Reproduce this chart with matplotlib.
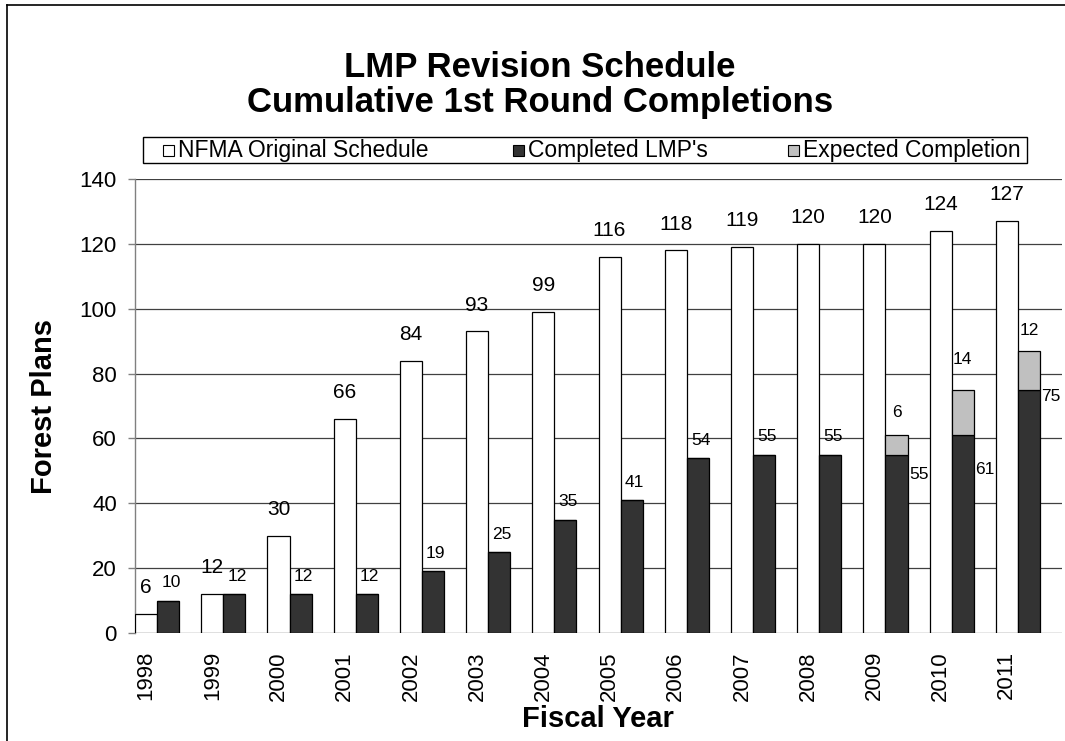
import numpy as np
import matplotlib
matplotlib.use("Agg")
import matplotlib.pyplot as plt
from matplotlib.lines import Line2D
from matplotlib.patches import Rectangle

plt.rcParams["font.family"] = ["Liberation Sans", "DejaVu Sans"]

years = [str(y) for y in range(1998, 2012)]
schedule = [6, 12, 30, 66, 84, 93, 99, 116, 118, 119, 120, 120, 124, 127]
completed = [10, 12, 12, 12, 19, 25, 35, 41, 54, 55, 55, 55, 61, 75]
expected = [0, 0, 0, 0, 0, 0, 0, 0, 0, 0, 0, 6, 14, 12]
series_names = ["NFMA Original Schedule", "Completed LMP's", "Expected Completion"]

WHITE = "#ffffff"
DARK = "#333333"
GRAY = "#c0c0c0"
GRID = "#404040"
AXIS = "#808080"

W, H = 1065, 741
fig = plt.figure(figsize=(W / 100, H / 100), dpi=100)
ax = fig.add_axes([135 / W, 1 - 633 / H, (1062 - 135) / W, (633 - 179) / H])

x = np.arange(len(years))
bw = 1 / 3
left = x - 0.5

ax.bar(left, schedule, bw, align="edge", color=WHITE, edgecolor="black", linewidth=0.9, zorder=3)
ax.bar(left + bw, completed, bw, align="edge", color=DARK, edgecolor="black", linewidth=0.9, zorder=3)
ax.bar(left + bw, expected, bw, bottom=completed, align="edge", color=GRAY, edgecolor="black",
       linewidth=0.9, zorder=3)

ax.set_xlim(-0.5, len(years) - 0.5)
ax.set_ylim(0, 140)
ax.set_yticks(range(0, 141, 20))
ax.yaxis.grid(True, color=GRID, linewidth=0.9)
ax.set_axisbelow(True)
for side in ["top", "right", "bottom"]:
    ax.spines[side].set_visible(False)
ax.spines["left"].set_color(AXIS)
ax.spines["left"].set_linewidth(1.0)
ax.tick_params(axis="y", length=5, width=1.0, color=AXIS, pad=8, labelsize=16)
ax.set_xticks(left + bw / 2)
ax.set_xticklabels(years, rotation=90, fontsize=16)
ax.tick_params(axis="x", length=0, pad=13)

# value labels
for i, v in enumerate(schedule):
    ax.annotate(str(v), (left[i] + bw / 2, v), xytext=(0, 15), textcoords="offset points",
                ha="center", va="baseline", fontsize=15)

for i, v in enumerate(completed):
    if expected[i] == 0:
        ax.annotate(str(v), (left[i] + 1.5 * bw, v), xytext=(2, 9.5), textcoords="offset points",
                    ha="center", va="baseline", fontsize=12.5)

# last three years: completed label beside the bar, expected label above the stack
side_drop = {11: -14, 12: -25, 13: -5}
top_rise = {11: 16, 12: 22, 13: 15}
for i in side_drop:
    ax.annotate(str(completed[i]), (left[i] + 2 * bw, completed[i]), xytext=(1, side_drop[i]),
                textcoords="offset points", ha="left", va="center", fontsize=12.5)
    top = completed[i] + expected[i]
    ax.annotate(str(expected[i]), (left[i] + 1.5 * bw, top), xytext=(0, top_rise[i]),
                textcoords="offset points", ha="center", va="center", fontsize=12.5)

# titles
fig.text(540 / W, 1 - 77 / H, "LMP Revision Schedule", ha="center", va="baseline",
         fontsize=25, fontweight="bold")
fig.text(540 / W, 1 - 112 / H, "Cumulative 1st Round Completions", ha="center", va="baseline",
         fontsize=25, fontweight="bold")
fig.text(598 / W, 1 - 727 / H, "Fiscal Year", ha="center", va="baseline", fontsize=21,
         fontweight="bold")
fig.text(44 / W, 1 - 407 / H, "Forest Plans", ha="center", va="center", rotation=90,
         fontsize=21, fontweight="bold")

# legend, laid out by hand like the Excel one
fig.add_artist(Rectangle((143 / W, 1 - 163 / H), (1027 - 143) / W, 26 / H,
                         transform=fig.transFigure, facecolor="white", edgecolor="black",
                         linewidth=1.0))
legend_x = [163, 513, 788]
for px, name, color in zip(legend_x, series_names, [WHITE, DARK, GRAY]):
    fig.add_artist(Rectangle((px / W, 1 - 156 / H), 11 / W, 11 / H, transform=fig.transFigure,
                             facecolor=color, edgecolor="black", linewidth=0.8))
    fig.text((px + 15) / W, 1 - 150 / H, name, ha="left", va="center", fontsize=16.5)

# outer chart border (the picture is cropped on the right and bottom)
fig.add_artist(Line2D([7 / W, 7 / W], [0, 1 - 5 / H], color="black", linewidth=1.2))
fig.add_artist(Line2D([7 / W, 1], [1 - 5 / H, 1 - 5 / H], color="black", linewidth=1.2))

fig.savefig("out.png", dpi=100)
